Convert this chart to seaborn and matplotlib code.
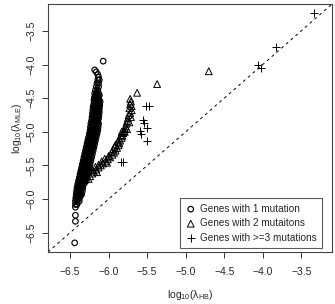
import numpy as np
import pandas as pd
import matplotlib
matplotlib.use('Agg')
import matplotlib.pyplot as plt
import seaborn as sns

# genes with 1 mutation (row by row along the dense band)
one_x = [-6.07, -6.18, -6.16, -6.14, -6.13,
         -6.14, -6.12, -6.15, -6.13, -6.16, -6.13, -6.17, -6.14,
         -6.18, -6.155, -6.13, -6.18, -6.155, -6.13,
         -6.19, -6.165, -6.14, -6.12, -6.19, -6.165, -6.14, -6.12,
         -6.20, -6.175, -6.15, -6.125, -6.205, -6.18, -6.155, -6.13,
         -6.21, -6.185, -6.16, -6.135, -6.215, -6.19, -6.165, -6.14,
         -6.22, -6.195, -6.17, -6.145,
         -6.23, -6.205, -6.18, -6.155, -6.13,
         -6.235, -6.21, -6.185, -6.16, -6.135,
         -6.24, -6.215, -6.19, -6.165, -6.14,
         -6.25, -6.225, -6.20, -6.175, -6.15,
         -6.26, -6.235, -6.21, -6.185, -6.16,
         -6.27, -6.245, -6.22, -6.195, -6.17,
         -6.28, -6.255, -6.23, -6.205, -6.18,
         -6.29, -6.265, -6.24, -6.215, -6.19,
         -6.30, -6.275, -6.25, -6.225, -6.20,
         -6.31, -6.285, -6.26, -6.235, -6.21,
         -6.32, -6.295, -6.27, -6.245, -6.22,
         -6.33, -6.305, -6.28, -6.255, -6.23,
         -6.34, -6.315, -6.29, -6.265, -6.24,
         -6.35, -6.325, -6.30, -6.275, -6.25,
         -6.36, -6.335, -6.31, -6.285, -6.26,
         -6.37, -6.345, -6.32, -6.295, -6.27,
         -6.38, -6.355, -6.33, -6.305, -6.28,
         -6.39, -6.365, -6.34, -6.315, -6.29,
         -6.40, -6.375, -6.35, -6.325,
         -6.41, -6.385, -6.36, -6.335,
         -6.415, -6.39, -6.365, -6.34,
         -6.42, -6.395, -6.37, -6.35,
         -6.425, -6.40, -6.375,
         -6.43, -6.405, -6.38,
         -6.43, -6.41,
         -6.43, -6.43, -6.43, -6.44,
         # in-between rows
         -6.17, -6.145, -6.12,
         -6.185, -6.16, -6.135,
         -6.18, -6.155, -6.13, -6.11,
         -6.19, -6.165, -6.14, -6.115,
         -6.19, -6.165, -6.14, -6.12,
         -6.195, -6.17, -6.145, -6.12,
         -6.20, -6.175, -6.15, -6.125,
         -6.205, -6.18, -6.155, -6.13,
         -6.215, -6.19, -6.165, -6.14,
         -6.22, -6.195, -6.17, -6.145,
         -6.225, -6.20, -6.175, -6.15,
         -6.235, -6.21, -6.185, -6.16,
         -6.245, -6.22, -6.195, -6.17,
         -6.255, -6.23, -6.205, -6.18,
         -6.265, -6.24, -6.215, -6.19,
         -6.275, -6.25, -6.225, -6.20,
         -6.285, -6.26, -6.235, -6.21,
         -6.295, -6.27, -6.245, -6.22,
         -6.305, -6.28, -6.255, -6.23,
         -6.315, -6.29, -6.265, -6.24,
         -6.325, -6.30, -6.275, -6.25,
         -6.335, -6.31, -6.285, -6.26,
         -6.345, -6.32, -6.295, -6.27,
         -6.355, -6.33, -6.305, -6.28,
         -6.365, -6.34, -6.315, -6.29,
         -6.375, -6.35, -6.325, -6.30,
         -6.385, -6.36, -6.335, -6.31,
         -6.395, -6.37, -6.345,
         -6.40, -6.375, -6.35,
         -6.41, -6.385, -6.36,
         -6.415, -6.39, -6.365,
         -6.42, -6.395]
one_y = [-3.95, -4.08, -4.11, -4.15, -4.19,
         -4.23, -4.23, -4.28, -4.28, -4.33, -4.33, -4.38, -4.38,
         -4.43, -4.43, -4.43, -4.48, -4.48, -4.48,
         -4.53, -4.53, -4.53, -4.53, -4.58, -4.58, -4.58, -4.58,
         -4.63, -4.63, -4.63, -4.63, -4.68, -4.68, -4.68, -4.68,
         -4.73, -4.73, -4.73, -4.73, -4.78, -4.78, -4.78, -4.78,
         -4.83, -4.83, -4.83, -4.83,
         -4.88, -4.88, -4.88, -4.88, -4.88,
         -4.93, -4.93, -4.93, -4.93, -4.93,
         -4.98, -4.98, -4.98, -4.98, -4.98,
         -5.03, -5.03, -5.03, -5.03, -5.03,
         -5.08, -5.08, -5.08, -5.08, -5.08,
         -5.13, -5.13, -5.13, -5.13, -5.13,
         -5.18, -5.18, -5.18, -5.18, -5.18,
         -5.23, -5.23, -5.23, -5.23, -5.23,
         -5.28, -5.28, -5.28, -5.28, -5.28,
         -5.33, -5.33, -5.33, -5.33, -5.33,
         -5.38, -5.38, -5.38, -5.38, -5.38,
         -5.43, -5.43, -5.43, -5.43, -5.43,
         -5.48, -5.48, -5.48, -5.48, -5.48,
         -5.53, -5.53, -5.53, -5.53, -5.53,
         -5.58, -5.58, -5.58, -5.58, -5.58,
         -5.63, -5.63, -5.63, -5.63, -5.63,
         -5.68, -5.68, -5.68, -5.68, -5.68,
         -5.73, -5.73, -5.73, -5.73, -5.73,
         -5.78, -5.78, -5.78, -5.78,
         -5.83, -5.83, -5.83, -5.83,
         -5.88, -5.88, -5.88, -5.88,
         -5.93, -5.93, -5.93, -5.93,
         -5.98, -5.98, -5.98,
         -6.03, -6.03, -6.03,
         -6.08, -6.08,
         -6.12, -6.24, -6.33, -6.65,
         # in-between rows
         -4.455, -4.455, -4.455,
         -4.505, -4.505, -4.505,
         -4.555, -4.555, -4.555, -4.555,
         -4.605, -4.605, -4.605, -4.605,
         -4.655, -4.655, -4.655, -4.655,
         -4.705, -4.705, -4.705, -4.705,
         -4.755, -4.755, -4.755, -4.755,
         -4.805, -4.805, -4.805, -4.805,
         -4.855, -4.855, -4.855, -4.855,
         -4.905, -4.905, -4.905, -4.905,
         -4.955, -4.955, -4.955, -4.955,
         -5.005, -5.005, -5.005, -5.005,
         -5.055, -5.055, -5.055, -5.055,
         -5.105, -5.105, -5.105, -5.105,
         -5.155, -5.155, -5.155, -5.155,
         -5.205, -5.205, -5.205, -5.205,
         -5.255, -5.255, -5.255, -5.255,
         -5.305, -5.305, -5.305, -5.305,
         -5.355, -5.355, -5.355, -5.355,
         -5.405, -5.405, -5.405, -5.405,
         -5.455, -5.455, -5.455, -5.455,
         -5.505, -5.505, -5.505, -5.505,
         -5.555, -5.555, -5.555, -5.555,
         -5.605, -5.605, -5.605, -5.605,
         -5.655, -5.655, -5.655, -5.655,
         -5.705, -5.705, -5.705, -5.705,
         -5.755, -5.755, -5.755, -5.755,
         -5.805, -5.805, -5.805,
         -5.855, -5.855, -5.855,
         -5.905, -5.905, -5.905,
         -5.955, -5.955, -5.955,
         -6.005, -6.005]

# genes with 2 mutations
two_x = [-4.70, -5.37, -5.63,
         -5.72, -5.71, -5.72, -5.70, -5.73, -5.70, -5.72, -5.74, -5.71, -5.75,
         -5.76, -5.73, -5.77, -5.78, -5.79, -5.80, -5.81, -5.82, -5.83, -5.85,
         -5.86, -5.87, -5.89, -5.91, -5.93, -5.95, -5.98, -6.01, -6.04, -6.07,
         -6.10, -6.13, -6.16, -6.19, -6.21, -6.24, -6.26,
         -5.84, -5.88, -5.92, -5.96, -6.00, -6.05, -6.09, -6.13, -6.17, -6.21,
         -5.76, -5.79, -5.83, -5.86, -5.91, -5.94, -6.02, -6.15]
two_y = [-4.10, -4.29, -4.42,
         -4.51, -4.55, -4.59, -4.62, -4.65, -4.68, -4.72, -4.75, -4.78, -4.80,
         -4.84, -4.86, -4.88, -4.92, -4.95, -4.99, -5.02, -5.06, -5.09, -5.13,
         -5.17, -5.20, -5.24, -5.28, -5.31, -5.34, -5.38, -5.41, -5.44, -5.47,
         -5.50, -5.53, -5.56, -5.59, -5.62, -5.66, -5.70,
         -5.05, -5.15, -5.22, -5.30, -5.36, -5.40, -5.44, -5.49, -5.52, -5.57,
         -4.96, -5.00, -5.00, -5.10, -5.19, -5.26, -5.46, -5.60]

# genes with >= 3 mutations
three_x = [-3.33, -3.83, -4.06, -4.02, -5.515, -5.47, -5.55, -5.54,
           -5.50, -5.59, -5.58, -5.50, -5.84, -5.81]
three_y = [-3.23, -3.74, -4.00, -4.05, -4.62, -4.62, -4.83, -4.87,
           -4.94, -4.99, -5.03, -5.14, -5.45, -5.45]

ticks = [-6.5, -6.0, -5.5, -5.0, -4.5, -4.0, -3.5]
lims = (-6.786, -3.10)

df = pd.concat([
    pd.DataFrame({'hb': one_x, 'mle': one_y, 'group': 'Genes with 1 mutation'}),
    pd.DataFrame({'hb': two_x, 'mle': two_y, 'group': 'Genes with 2 mutaitons'}),
    pd.DataFrame({'hb': three_x, 'mle': three_y, 'group': 'Genes with >=3 mutations'}),
])

sns.set_style('white')
plt.rcParams['font.family'] = ['Liberation Sans', 'DejaVu Sans']
plt.rcParams['mathtext.default'] = 'regular'

fig = plt.figure(figsize=(3.35, 3.04), dpi=100)
ax = fig.add_axes([0.1433, 0.171, 0.848, 0.816])

ax.plot(lims, lims, color='black', lw=0.7, ls=(0, (3, 3.5)), zorder=1)

g = df[df['group'] == 'Genes with 1 mutation']
sns.scatterplot(data=g, x='hb', y='mle', marker='o', s=16, facecolor='none',
                edgecolor='black', linewidth=0.85, label='Genes with 1 mutation', ax=ax)
g = df[df['group'] == 'Genes with 2 mutaitons']
sns.scatterplot(data=g, x='hb', y='mle', marker='^', s=24, facecolor='none',
                edgecolor='black', linewidth=0.7, label='Genes with 2 mutaitons', ax=ax)
g = df[df['group'] == 'Genes with >=3 mutations']
sns.scatterplot(data=g, x='hb', y='mle', marker='+', s=30, color='black',
                linewidth=0.7, label='Genes with >=3 mutations', ax=ax)

ax.set_xlim(lims)
ax.set_ylim(lims)
ax.set_xticks(ticks)
ax.set_yticks(ticks)
ax.tick_params(axis='both', direction='out', length=4, width=0.7, color='#333333',
               labelsize=7.5, bottom=True, left=True)
ax.tick_params(axis='x', pad=7)
ax.tick_params(axis='y', pad=4, labelrotation=90)
for lbl in ax.get_yticklabels():
    lbl.set_va('center')

for s in ax.spines.values():
    s.set_color('#444444')
    s.set_linewidth(0.8)

ax.set_xlabel(r'log$_{10}$($\lambda_{HB}$)', fontsize=7.5, labelpad=8)
ax.set_ylabel(r'log$_{10}$($\lambda_{MLE}$)', fontsize=7.5, labelpad=2)

leg = ax.legend(loc='lower right', bbox_to_anchor=(0.964, 0.015), borderaxespad=0,
                fontsize=7.2, frameon=True, fancybox=False, handletextpad=0.4,
                labelspacing=0.45, borderpad=0.55, handlelength=1.0)
leg.get_frame().set_edgecolor('#333333')
leg.get_frame().set_linewidth(0.8)

fig.savefig('out.png', dpi=100)
